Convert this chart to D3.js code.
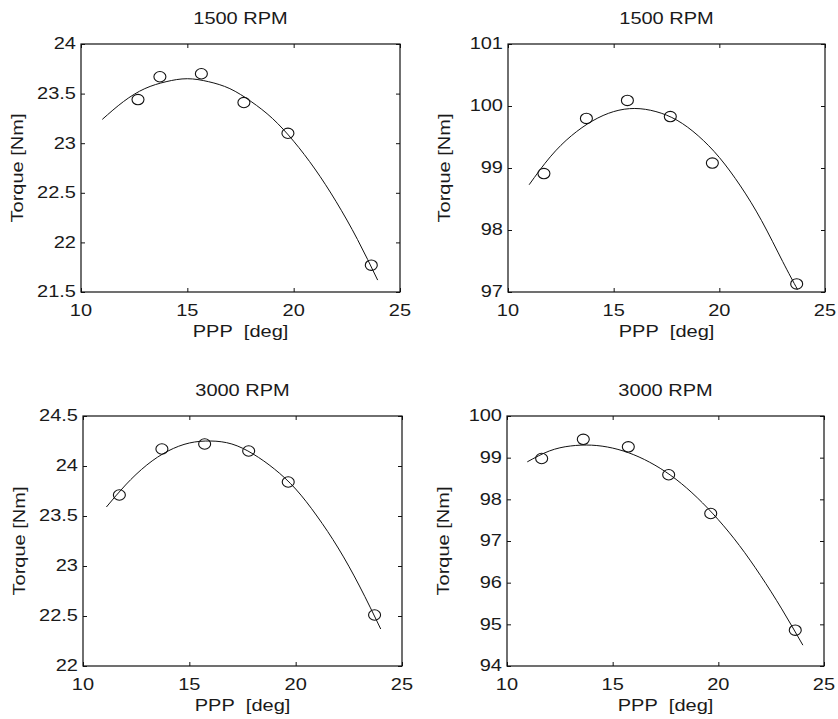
<!DOCTYPE html>
<html>
<head>
<meta charset="utf-8">
<script src="https://cdn.jsdelivr.net/npm/d3@7"></script>
<style>
  html, body { margin: 0; padding: 0; background: #fff; }
  svg { display: block; }
  text { font-family: "Liberation Sans", Arial, sans-serif; font-size: 16px; fill: #1a1a1a; white-space: pre; }
</style>
</head>
<body>
<svg id="chart" width="838" height="719"></svg>
<script>
// ---------- data ----------
const titles = ["1500 RPM", "1500 RPM", "3000 RPM", "3000 RPM"];
const xLabel = "PPP\u00a0 [deg]";
const yLabel = "Torque [Nm]";
const xDomain = [10, 25];
const xTicks = [10, 15, 20, 25];

const yDomainTL = [21.5, 24];
const yTicksTL = [21.5, 22, 22.5, 23, 23.5, 24];
const yDomainTR = [97, 101];
const yTicksTR = [97, 98, 99, 100, 101];
const yDomainBL = [22, 24.5];
const yTicksBL = [22, 22.5, 23, 23.5, 24, 24.5];
const yDomainBR = [94, 100];
const yTicksBR = [94, 95, 96, 97, 98, 99, 100];

// measured points (circles)
const ptXTL = [12.68, 13.71, 15.66, 17.66, 19.73, 23.65];
const ptYTL = [23.44, 23.67, 23.70, 23.41, 23.10, 21.77];
const ptXTR = [11.70, 13.71, 15.65, 17.68, 19.67, 23.66];
const ptYTR = [98.91, 99.80, 100.09, 99.83, 99.08, 97.13];
const ptXBL = [11.71, 13.71, 15.72, 17.79, 19.65, 23.71];
const ptYBL = [23.71, 24.17, 24.22, 24.15, 23.84, 22.51];
const ptXBR = [11.64, 13.61, 15.74, 17.65, 19.64, 23.64];
const ptYBR = [98.98, 99.44, 99.26, 98.59, 97.66, 94.86];

// fitted curves
const crvXTL = [11, 12, 13, 14, 15, 16, 17, 18, 19, 20, 21, 22, 23, 23.95];
const crvYTL = [23.24, 23.42, 23.55, 23.62, 23.65, 23.62, 23.55, 23.42, 23.25, 23.02, 22.74, 22.41, 22.03, 21.62];
const crvXTR = [11, 12, 13, 14, 15, 16, 17, 18, 19, 20, 21, 22, 23, 23.7];
const crvYTR = [98.73, 99.18, 99.52, 99.76, 99.91, 99.96, 99.91, 99.77, 99.52, 99.17, 98.71, 98.15, 97.49, 97.04];
const crvXBL = [11.1, 12, 13, 14, 15, 16, 17, 18, 19, 20, 21, 22, 23, 24];
const crvYBL = [23.59, 23.81, 24.01, 24.15, 24.23, 24.25, 24.22, 24.12, 23.97, 23.77, 23.50, 23.18, 22.80, 22.37];
const crvXBR = [10.96, 12, 13, 14, 15, 16, 17, 18, 19, 20, 21, 22, 23, 24];
const crvYBR = [98.90, 99.16, 99.28, 99.30, 99.23, 99.07, 98.82, 98.48, 98.04, 97.51, 96.89, 96.17, 95.37, 94.50];

// ---------- layout ----------
const panels = [
  { box: [81, 44, 400, 292],  yDom: yDomainTL, yTicks: yTicksTL, px: ptXTL, py: ptYTL, cx: crvXTL, cy: crvYTL, title: titles[0] },
  { box: [508, 44, 825, 292], yDom: yDomainTR, yTicks: yTicksTR, px: ptXTR, py: ptYTR, cx: crvXTR, cy: crvYTR, title: titles[1] },
  { box: [83, 416, 402, 666], yDom: yDomainBL, yTicks: yTicksBL, px: ptXBL, py: ptYBL, cx: crvXBL, cy: crvYBL, title: titles[2] },
  { box: [507, 416, 824, 666], yDom: yDomainBR, yTicks: yTicksBR, px: ptXBR, py: ptYBR, cx: crvXBR, cy: crvYBR, title: titles[3] }
];

const svg = d3.select("#chart");
const SX = 1.25; // wide glyphs of the original font
const TICK = 4;

function label(g, x, y, str, anchor, rot, base) {
  g.append("text")
    .attr("transform", `translate(${x},${y}) rotate(${rot || 0}) scale(${SX},1)`)
    .attr("text-anchor", anchor)
    .attr("dominant-baseline", base || "alphabetic")
    .text(str);
}

panels.forEach(p => {
  const [x0, y0, x1, y1] = p.box;
  const x = d3.scaleLinear().domain(xDomain).range([x0, x1]);
  const y = d3.scaleLinear().domain(p.yDom).range([y1, y0]);
  const g = svg.append("g");

  const fmt = d => String(d);
  g.append("g").attr("transform", `translate(0,${y1})`)
    .call(d3.axisBottom(x).tickValues(xTicks).tickSize(-TICK).tickFormat(""))
    .call(a => a.select(".domain").remove());
  g.append("g").attr("transform", `translate(0,${y0})`)
    .call(d3.axisTop(x).tickValues(xTicks).tickSize(-TICK).tickFormat(""))
    .call(a => a.select(".domain").remove());
  g.append("g").attr("transform", `translate(${x0},0)`)
    .call(d3.axisLeft(y).tickValues(p.yTicks).tickSize(-TICK).tickFormat(""))
    .call(a => a.select(".domain").remove());
  g.append("g").attr("transform", `translate(${x1},0)`)
    .call(d3.axisRight(y).tickValues(p.yTicks).tickSize(-TICK).tickFormat(""))
    .call(a => a.select(".domain").remove());
  g.selectAll(".tick line").attr("stroke", "#111").attr("stroke-width", 1);

  g.append("rect")
    .attr("x", x0).attr("y", y0).attr("width", x1 - x0).attr("height", y1 - y0)
    .attr("fill", "none").attr("stroke", "#111").attr("stroke-width", 1.2);

  xTicks.forEach(t => label(g, x(t), y1 + 24, fmt(t), "middle"));
  p.yTicks.forEach(t => label(g, x0 - 5, y(t), fmt(t), "end", 0, "central"));

  label(g, (x0 + x1) / 2, y0 - 20, p.title, "middle");
  label(g, (x0 + x1) / 2, y1 + 45, xLabel, "middle");
  label(g, x0 - 58, (y0 + y1) / 2, yLabel, "middle", -90);

  const cdata = p.cx.map((v, i) => [v, p.cy[i]]);
  g.append("path")
    .datum(cdata)
    .attr("d", d3.line().x(d => x(d[0])).y(d => y(d[1])).curve(d3.curveNatural))
    .attr("fill", "none").attr("stroke", "#111").attr("stroke-width", 1);

  const pdata = p.px.map((v, i) => [v, p.py[i]]);
  g.selectAll("ellipse.pt").data(pdata).enter().append("ellipse")
    .attr("class", "pt")
    .attr("cx", d => x(d[0])).attr("cy", d => y(d[1]))
    .attr("rx", 6).attr("ry", 5.2)
    .attr("fill", "none").attr("stroke", "#111").attr("stroke-width", 1.1);
});
</script>
</body>
</html>
